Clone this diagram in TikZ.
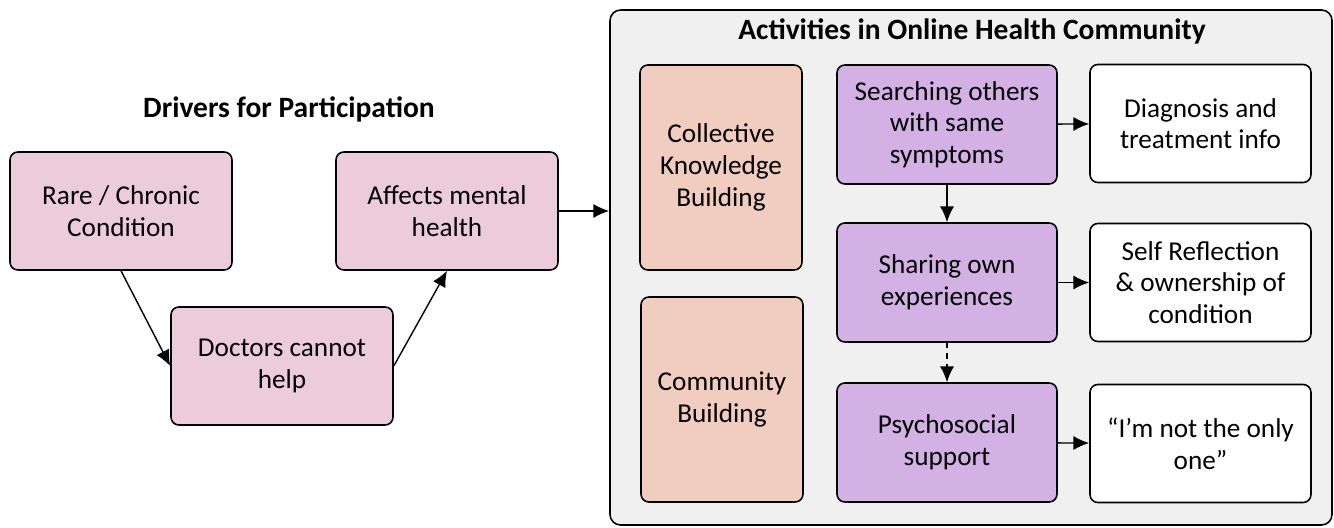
\documentclass[tikz,border=0pt]{standalone}
\usepackage{fontspec}
\setmainfont{Carlito}
\usetikzlibrary{arrows.meta}

\definecolor{driverpink}{HTML}{ECCCDB}
\definecolor{buildpeach}{HTML}{F0CDBF}
\definecolor{actpurple}{HTML}{D3B1E5}
\definecolor{panelgray}{HTML}{F0F0F0}

\tikzset{
  box/.style={draw,line width=0.9pt,rounded corners=4.5pt,align=center,font=\fontsize{15.5}{18}\selectfont,inner sep=0pt},
  driver/.style={box,fill=driverpink,minimum width=222*0.02cm,minimum height=118*0.02cm},
  build/.style={box,fill=buildpeach,minimum width=162*0.02cm,minimum height=205*0.02cm},
  act/.style={box,fill=actpurple,minimum width=220*0.02cm,minimum height=119*0.02cm},
  outcome/.style={box,fill=white,minimum width=221*0.02cm,minimum height=118*0.02cm},
  heading/.style={font=\bfseries\fontsize{16.8}{20}\selectfont},
  link/.style={-{Latex[length=9pt,width=8pt]},line width=0.8pt}
}

\begin{document}
\begin{tikzpicture}[x=0.02cm,y=-0.02cm]
\useasboundingbox (0,0) rectangle (1334,527);

% drivers
\node[heading] (drvtitle) at (289,109) {Drivers for Participation};
\node[driver] (rare) at (121,211) {Rare / Chronic\\Condition};
\node[driver] (doctors) at (282,366) {Doctors cannot\\help};
\node[driver] (mental) at (447,211) {Affects mental\\health};

% activities panel
\node[draw,line width=0.9pt,rounded corners=6pt,fill=panelgray,minimum width=722*0.02cm,minimum height=515*0.02cm,inner sep=0pt] (panel) at (971,267.5) {};
\node[heading] (acttitle) at (972,31) {Activities in Online Health Community};

\node[build] (collective) at (721,167.5) {Collective\\Knowledge\\Building};
\node[build] (community) at (722,399.5) {Community\\Building};

\node[act] (searching) at (947,124.5) {Searching others\\with same\\symptoms};
\node[act] (sharing) at (947,282.5) {Sharing own\\experiences};
\node[act] (psycho) at (947,442.5) {Psychosocial\\support};

\node[outcome] (diagnosis) at (1200.5,123.5) {Diagnosis and\\treatment info};
\node[outcome] (reflection) at (1200.5,282.5) {Self Reflection\\\& ownership of\\condition};
\node[outcome] (notonly) at (1200.5,443.5) {``I’m not the only\\one''};

% connectors
\draw[link] (rare.south) -- (doctors.west);
\draw[link] (doctors.east) -- (mental.south);
\draw[link] (mental.east) -- (mental.east -| panel.west);
\draw[link] (searching) -- (sharing);
\draw[link,dashed] (sharing) -- (psycho);
\foreach \a/\b in {searching/diagnosis,sharing/reflection,psycho/notonly}
  \draw[link] (\a) -- (\b);
\end{tikzpicture}
\end{document}
